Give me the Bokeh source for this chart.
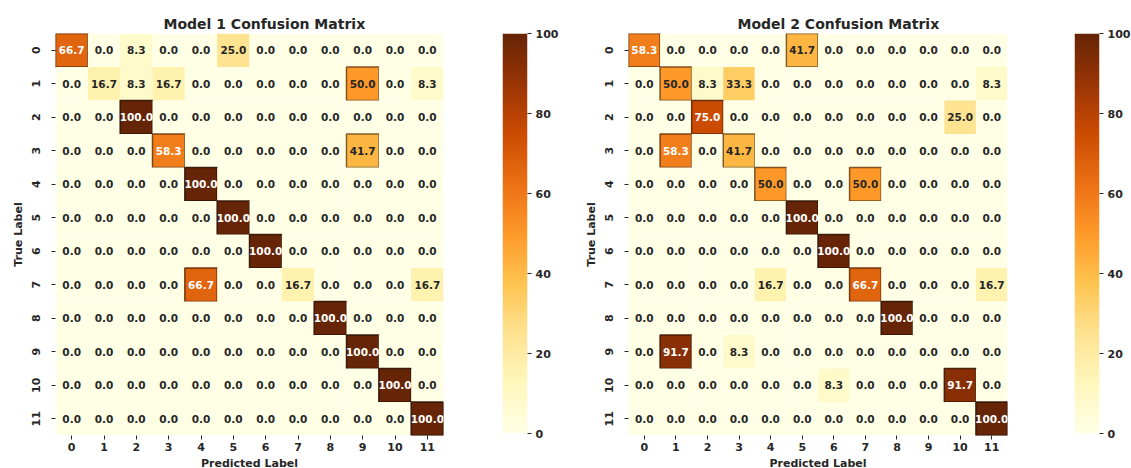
import numpy as np
from bokeh.plotting import figure
from bokeh.layouts import row
from bokeh.models import ColumnDataSource, FixedTicker, LinearColorMapper
from bokeh.core.properties import value
from bokeh.palettes import YlOrBr9
from bokeh.embed import file_html
from bokeh.resources import INLINE

# ---- data -------------------------------------------------------------
classes = [str(i) for i in range(12)]

model1_rows = [
    [66.7, 0.0, 8.3, 0.0, 0.0, 25.0, 0.0, 0.0, 0.0, 0.0, 0.0, 0.0],
    [0.0, 16.7, 8.3, 16.7, 0.0, 0.0, 0.0, 0.0, 0.0, 50.0, 0.0, 8.3],
    [0.0, 0.0, 100.0, 0.0, 0.0, 0.0, 0.0, 0.0, 0.0, 0.0, 0.0, 0.0],
    [0.0, 0.0, 0.0, 58.3, 0.0, 0.0, 0.0, 0.0, 0.0, 41.7, 0.0, 0.0],
    [0.0, 0.0, 0.0, 0.0, 100.0, 0.0, 0.0, 0.0, 0.0, 0.0, 0.0, 0.0],
    [0.0, 0.0, 0.0, 0.0, 0.0, 100.0, 0.0, 0.0, 0.0, 0.0, 0.0, 0.0],
    [0.0, 0.0, 0.0, 0.0, 0.0, 0.0, 100.0, 0.0, 0.0, 0.0, 0.0, 0.0],
    [0.0, 0.0, 0.0, 0.0, 66.7, 0.0, 0.0, 16.7, 0.0, 0.0, 0.0, 16.7],
    [0.0, 0.0, 0.0, 0.0, 0.0, 0.0, 0.0, 0.0, 100.0, 0.0, 0.0, 0.0],
    [0.0, 0.0, 0.0, 0.0, 0.0, 0.0, 0.0, 0.0, 0.0, 100.0, 0.0, 0.0],
    [0.0, 0.0, 0.0, 0.0, 0.0, 0.0, 0.0, 0.0, 0.0, 0.0, 100.0, 0.0],
    [0.0, 0.0, 0.0, 0.0, 0.0, 0.0, 0.0, 0.0, 0.0, 0.0, 0.0, 100.0],
]

model2_rows = [
    [58.3, 0.0, 0.0, 0.0, 0.0, 41.7, 0.0, 0.0, 0.0, 0.0, 0.0, 0.0],
    [0.0, 50.0, 8.3, 33.3, 0.0, 0.0, 0.0, 0.0, 0.0, 0.0, 0.0, 8.3],
    [0.0, 0.0, 75.0, 0.0, 0.0, 0.0, 0.0, 0.0, 0.0, 0.0, 25.0, 0.0],
    [0.0, 58.3, 0.0, 41.7, 0.0, 0.0, 0.0, 0.0, 0.0, 0.0, 0.0, 0.0],
    [0.0, 0.0, 0.0, 0.0, 50.0, 0.0, 0.0, 50.0, 0.0, 0.0, 0.0, 0.0],
    [0.0, 0.0, 0.0, 0.0, 0.0, 100.0, 0.0, 0.0, 0.0, 0.0, 0.0, 0.0],
    [0.0, 0.0, 0.0, 0.0, 0.0, 0.0, 100.0, 0.0, 0.0, 0.0, 0.0, 0.0],
    [0.0, 0.0, 0.0, 0.0, 16.7, 0.0, 0.0, 66.7, 0.0, 0.0, 0.0, 16.7],
    [0.0, 0.0, 0.0, 0.0, 0.0, 0.0, 0.0, 0.0, 100.0, 0.0, 0.0, 0.0],
    [0.0, 91.7, 0.0, 8.3, 0.0, 0.0, 0.0, 0.0, 0.0, 0.0, 0.0, 0.0],
    [0.0, 0.0, 0.0, 0.0, 0.0, 0.0, 8.3, 0.0, 0.0, 0.0, 91.7, 0.0],
    [0.0, 0.0, 0.0, 0.0, 0.0, 0.0, 0.0, 0.0, 0.0, 0.0, 0.0, 100.0],
]

cbar_ticks = [0, 20, 40, 60, 80, 100]

# ---- colour ramp (light -> dark YlOrBr, 256 steps) ---------------------
base = list(reversed(YlOrBr9))
rgb = np.array([[int(c[i:i + 2], 16) for i in (1, 3, 5)] for c in base], float)
pos = np.linspace(0, 1, len(base))
t = np.linspace(0, 1, 256)
ramp = np.stack([np.interp(t, pos, rgb[:, k]) for k in range(3)], axis=1)
palette = ["#%02x%02x%02x" % tuple(int(round(v)) for v in c) for c in ramp]
mapper = LinearColorMapper(palette=palette, low=0, high=100)

FONT_NAME = "DejaVu Sans"
INK = "#262626"


def ramp_rgb(v):
    i = int(np.clip(v / 100.0, 0, 1) * 255)
    return ramp[i] / 255.0


def luminance(c):
    lin = np.where(c <= 0.03928, c / 12.92, ((c + 0.055) / 1.055) ** 2.4)
    return 0.2126 * lin[0] + 0.7152 * lin[1] + 0.0722 * lin[2]


def to_hex(c):
    return "#%02x%02x%02x" % tuple(int(round(x * 255)) for x in c)


def style_axes(p):
    for ax in (p.xaxis[0], p.yaxis[0]):
        ax.axis_line_color = None
        ax.major_tick_in = 0
        ax.major_tick_out = 4
        ax.major_tick_line_color = INK
        ax.minor_tick_line_color = None
        ax.major_label_text_font = FONT_NAME
        ax.major_label_text_font_size = "11px"
        ax.major_label_text_font_style = "bold"
        ax.major_label_text_color = INK
        ax.axis_label_text_font = FONT_NAME
        ax.axis_label_text_font_size = "11px"
        ax.axis_label_text_font_style = "bold"
        ax.axis_label_text_color = INK
    p.xaxis.major_label_standoff = 3
    p.xaxis.axis_label_standoff = 3
    p.yaxis.major_label_standoff = 12
    p.yaxis.axis_label_standoff = 4
    p.yaxis.major_label_orientation = "vertical"


def heatmap(title, rows, frame_w, left, right, title_offset):
    xs, ys, vals, labels, tcols, lcols, lalpha = [], [], [], [], [], [], []
    for r, vals_row in enumerate(rows):
        for c, v in enumerate(vals_row):
            xs.append(classes[c])
            ys.append(classes[r])
            vals.append(v)
            labels.append("%.1f" % v)
            col = ramp_rgb(v)
            tcols.append(INK if luminance(col) > 0.408 else "#ffffff")
            lcols.append(to_hex(col * 0.45))
            lalpha.append(0.9 if v >= 40 else 0.0)
    src = ColumnDataSource(dict(pred=xs, true=ys, v=vals, label=labels,
                                tcol=tcols, lcol=lcols, lalpha=lalpha))

    p = figure(x_range=classes, y_range=classes[::-1],
               frame_width=frame_w, frame_height=402,
               min_border_left=left, min_border_right=right,
               min_border_top=33, min_border_bottom=33,
               toolbar_location=None, output_backend="svg",
               x_axis_label="Predicted Label", y_axis_label="True Label")
    p.rect(x="pred", y="true", width=1, height=1, source=src,
           fill_color={"field": "v", "transform": mapper},
           line_color="lcol", line_alpha="lalpha", line_width=1.5)
    p.text(x="pred", y="true", text="label", source=src,
           text_align="center", text_baseline="middle",
           text_font=value(FONT_NAME), text_font_size="10.5px",
           text_font_style="bold", text_color="tcol")

    p.title.text = title
    p.title.align = "left"
    p.title.offset = title_offset
    p.title.standoff = 4
    p.title.text_font = FONT_NAME
    p.title.text_font_size = "14px"
    p.title.text_font_style = "bold"
    p.title.text_color = INK

    p.grid.visible = False
    p.outline_line_color = None
    p.background_fill_color = "white"
    style_axes(p)
    return p


def colorbar(left, right):
    p = figure(x_range=(0, 1), y_range=(0, 100),
               frame_width=25, frame_height=400,
               min_border_left=left, min_border_right=right,
               min_border_top=33, min_border_bottom=35,
               toolbar_location=None, output_backend="svg",
               x_axis_location=None, y_axis_location="right")
    grad = np.linspace(0, 100, 256).reshape(-1, 1)
    p.image(image=[grad], x=0, y=0, dw=1, dh=100, color_mapper=mapper)
    ax = p.yaxis[0]
    ax.ticker = FixedTicker(ticks=cbar_ticks)
    ax.axis_line_color = None
    ax.major_tick_in = 0
    ax.major_tick_out = 4
    ax.major_tick_line_color = INK
    ax.minor_tick_line_color = None
    ax.major_label_standoff = 4
    ax.major_label_text_font = FONT_NAME
    ax.major_label_text_font_size = "11px"
    ax.major_label_text_font_style = "bold"
    ax.major_label_text_color = INK
    p.grid.visible = False
    p.outline_line_color = None
    return p


p1 = heatmap("Model 1 Confusion Matrix", model1_rows, 388, 55, 37, 108)
c1 = colorbar(22, 38)
p2 = heatmap("Model 2 Confusion Matrix", model2_rows, 379, 63, 40, 109)
c2 = colorbar(27, 32)

layout = row(p1, c1, p2, c2, spacing=0)

open("out.html", "w").write(file_html(layout, INLINE))
